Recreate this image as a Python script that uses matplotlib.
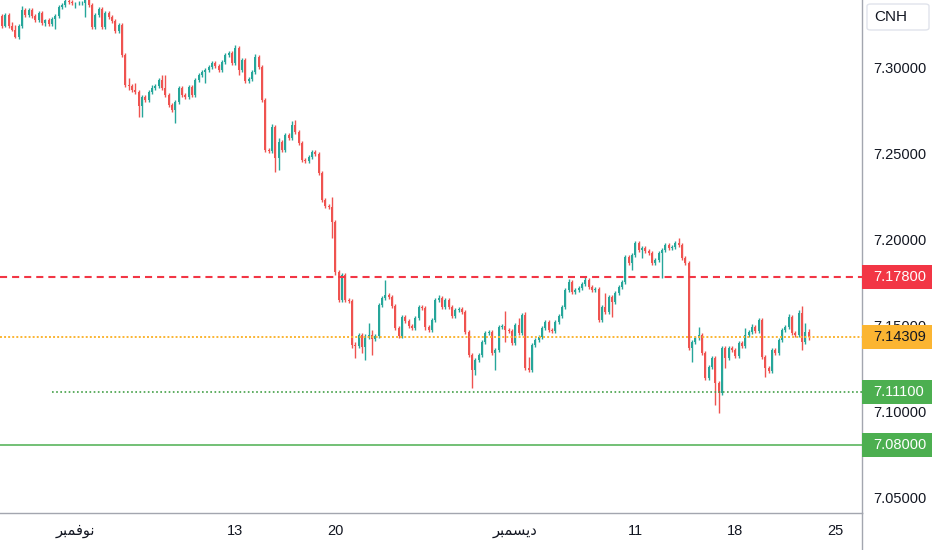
import numpy as np
import matplotlib
matplotlib.use("Agg")
import matplotlib.pyplot as plt
from matplotlib.patches import Rectangle, FancyBboxPatch
from matplotlib.lines import Line2D
from matplotlib.transforms import blended_transform_factory

plt.rcParams['font.family'] = ['Liberation Sans', 'DejaVu Sans']

# ---- data: USD/CNH 4h candles ----
first_open = 7.3297

closes = [
    7.3238, 7.3302, 7.3238, 7.3215, 7.3174, 7.3238, 7.3331, 7.3302, 7.3331, 7.3297,
    7.3273, 7.3314, 7.3256, 7.3273, 7.3250, 7.3279, 7.3297, 7.3349, 7.3360, 7.3384,
    7.3378, 7.3372, 7.3372, 7.3372, 7.3372, 7.3390, 7.3360, 7.3233, 7.3302, 7.3337,
    7.3233, 7.3314, 7.3291, 7.3267, 7.3209, 7.3244, 7.3070, 7.2895, 7.2890, 7.2866,
    7.2855, 7.2773, 7.2826, 7.2808, 7.2855, 7.2878, 7.2890, 7.2924, 7.2878, 7.2837,
    7.2779, 7.2750, 7.2796, 7.2878, 7.2837, 7.2826, 7.2884, 7.2837, 7.2924, 7.2953,
    7.2971, 7.2982, 7.3000, 7.3023, 7.3006, 7.2982, 7.3029, 7.3070, 7.3081, 7.3023,
    7.3110, 7.2982, 7.3041, 7.2919, 7.2930, 7.2971, 7.3058, 7.3000, 7.2808, 7.2517,
    7.2512, 7.2651, 7.2471, 7.2564, 7.2517, 7.2605, 7.2587, 7.2663, 7.2622, 7.2558,
    7.2459, 7.2453, 7.2477, 7.2506, 7.2494, 7.2384, 7.2227, 7.2192, 7.2186, 7.2099,
    7.1808, 7.1645, 7.1791, 7.1645, 7.1640, 7.1384, 7.1378, 7.1442, 7.1372, 7.1430,
    7.1442, 7.1419, 7.1436, 7.1616, 7.1657, 7.1674, 7.1663, 7.1610, 7.1482, 7.1436,
    7.1546, 7.1523, 7.1494, 7.1482, 7.1541, 7.1605, 7.1599, 7.1488, 7.1471, 7.1529,
    7.1645, 7.1657, 7.1605, 7.1645, 7.1605, 7.1552, 7.1587, 7.1593, 7.1576, 7.1459,
    7.1326, 7.1238, 7.1297, 7.1326, 7.1401, 7.1453, 7.1459, 7.1337, 7.1355, 7.1488,
    7.1494, 7.1471, 7.1465, 7.1395, 7.1500, 7.1453, 7.1558, 7.1250, 7.1238, 7.1384,
    7.1413, 7.1430, 7.1482, 7.1517, 7.1471, 7.1465, 7.1517, 7.1552, 7.1605, 7.1703,
    7.1750, 7.1692, 7.1703, 7.1715, 7.1738, 7.1762, 7.1721, 7.1703, 7.1709, 7.1529,
    7.1605, 7.1576, 7.1663, 7.1634, 7.1686, 7.1721, 7.1750, 7.1895, 7.1860, 7.1907,
    7.1977, 7.1936, 7.1948, 7.1930, 7.1919, 7.1860, 7.1878, 7.1919, 7.1936, 7.1965,
    7.1948, 7.1953, 7.1977, 7.1965, 7.1890, 7.1860, 7.1366, 7.1401, 7.1424, 7.1442,
    7.1337, 7.1192, 7.1256, 7.1308, 7.1163, 7.1105, 7.1366, 7.1308, 7.1366, 7.1355,
    7.1320, 7.1395, 7.1378, 7.1442, 7.1459, 7.1488, 7.1465, 7.1529, 7.1314, 7.1250,
    7.1233, 7.1355, 7.1337, 7.1413, 7.1471, 7.1488, 7.1546, 7.1453, 7.1442, 7.1570,
    7.1401, 7.1459, 7.1431,
]

# wick lengths above / below the body, in price units
upper_wicks = [
    0.0012, 0.0012, 0.0010, 0.0023, 0.0029, 0.0012, 0.0023, 0.0010, 0.0012, 0.0010,
    0.0012, 0.0012, 0.0010, 0.0008, 0.0010, 0.0012, 0.0012, 0.0012, 0.0010, 0.0012,
    0.0010, 0.0010, 0.0008, 0.0010, 0.0010, 0.0012, 0.0010, 0.0012, 0.0010, 0.0012,
    0.0010, 0.0012, 0.0012, 0.0010, 0.0012, 0.0012, 0.0010, 0.0010, 0.0041, 0.0012,
    0.0041, 0.0010, 0.0012, 0.0012, 0.0012, 0.0017, 0.0012, 0.0012, 0.0029, 0.0076,
    0.0012, 0.0010, 0.0012, 0.0012, 0.0012, 0.0012, 0.0012, 0.0012, 0.0012, 0.0012,
    0.0012, 0.0012, 0.0012, 0.0012, 0.0012, 0.0010, 0.0012, 0.0012, 0.0012, 0.0012,
    0.0017, 0.0012, 0.0012, 0.0012, 0.0010, 0.0012, 0.0017, 0.0012, 0.0012, 0.0012,
    0.0010, 0.0017, 0.0012, 0.0023, 0.0012, 0.0012, 0.0012, 0.0023, 0.0029, 0.0012,
    0.0012, 0.0010, 0.0012, 0.0012, 0.0012, 0.0012, 0.0012, 0.0012, 0.0010, 0.0058,
    0.0012, 0.0012, 0.0012, 0.0012, 0.0012, 0.0012, 0.0017, 0.0012, 0.0012, 0.0017,
    0.0070, 0.0029, 0.0012, 0.0012, 0.0012, 0.0087, 0.0012, 0.0012, 0.0012, 0.0012,
    0.0012, 0.0012, 0.0012, 0.0012, 0.0012, 0.0012, 0.0012, 0.0012, 0.0012, 0.0012,
    0.0012, 0.0017, 0.0012, 0.0012, 0.0012, 0.0012, 0.0012, 0.0012, 0.0012, 0.0012,
    0.0012, 0.0012, 0.0012, 0.0012, 0.0012, 0.0012, 0.0012, 0.0012, 0.0012, 0.0012,
    0.0012, 0.0087, 0.0012, 0.0012, 0.0012, 0.0041, 0.0012, 0.0017, 0.0064, 0.0012,
    0.0012, 0.0012, 0.0012, 0.0012, 0.0012, 0.0012, 0.0012, 0.0012, 0.0012, 0.0012,
    0.0017, 0.0012, 0.0012, 0.0012, 0.0012, 0.0017, 0.0012, 0.0012, 0.0012, 0.0012,
    0.0012, 0.0081, 0.0012, 0.0012, 0.0012, 0.0012, 0.0012, 0.0012, 0.0012, 0.0012,
    0.0012, 0.0012, 0.0012, 0.0012, 0.0012, 0.0012, 0.0012, 0.0012, 0.0012, 0.0012,
    0.0012, 0.0012, 0.0012, 0.0029, 0.0012, 0.0012, 0.0012, 0.0012, 0.0012, 0.0047,
    0.0012, 0.0012, 0.0012, 0.0012, 0.0012, 0.0012, 0.0012, 0.0012, 0.0012, 0.0012,
    0.0012, 0.0012, 0.0012, 0.0041, 0.0012, 0.0017, 0.0012, 0.0012, 0.0012, 0.0012,
    0.0012, 0.0012, 0.0012, 0.0012, 0.0012, 0.0012, 0.0017, 0.0012, 0.0012, 0.0017,
    0.0041, 0.0052, 0.0017,
]

lower_wicks = [
    0.0012, 0.0006, 0.0012, 0.0006, 0.0006, 0.0012, 0.0010, 0.0012, 0.0012, 0.0012,
    0.0012, 0.0012, 0.0012, 0.0017, 0.0012, 0.0012, 0.0058, 0.0012, 0.0012, 0.0012,
    0.0012, 0.0012, 0.0029, 0.0010, 0.0010, 0.0081, 0.0012, 0.0012, 0.0012, 0.0012,
    0.0012, 0.0012, 0.0012, 0.0012, 0.0012, 0.0012, 0.0012, 0.0012, 0.0023, 0.0012,
    0.0012, 0.0064, 0.0064, 0.0012, 0.0012, 0.0012, 0.0012, 0.0012, 0.0012, 0.0012,
    0.0012, 0.0012, 0.0076, 0.0012, 0.0012, 0.0012, 0.0012, 0.0012, 0.0012, 0.0012,
    0.0012, 0.0064, 0.0012, 0.0012, 0.0012, 0.0012, 0.0012, 0.0012, 0.0012, 0.0012,
    0.0012, 0.0029, 0.0012, 0.0012, 0.0012, 0.0012, 0.0012, 0.0012, 0.0012, 0.0012,
    0.0012, 0.0012, 0.0081, 0.0070, 0.0012, 0.0012, 0.0012, 0.0012, 0.0012, 0.0012,
    0.0012, 0.0012, 0.0012, 0.0012, 0.0012, 0.0012, 0.0012, 0.0012, 0.0012, 0.0093,
    0.0017, 0.0012, 0.0012, 0.0012, 0.0012, 0.0017, 0.0070, 0.0012, 0.0035, 0.0076,
    0.0012, 0.0093, 0.0012, 0.0012, 0.0012, 0.0012, 0.0012, 0.0012, 0.0012, 0.0012,
    0.0012, 0.0012, 0.0012, 0.0012, 0.0012, 0.0012, 0.0012, 0.0017, 0.0012, 0.0012,
    0.0012, 0.0012, 0.0012, 0.0012, 0.0012, 0.0012, 0.0012, 0.0012, 0.0012, 0.0012,
    0.0012, 0.0105, 0.0029, 0.0012, 0.0012, 0.0012, 0.0012, 0.0012, 0.0099, 0.0012,
    0.0012, 0.0070, 0.0012, 0.0012, 0.0012, 0.0012, 0.0012, 0.0012, 0.0012, 0.0012,
    0.0012, 0.0012, 0.0012, 0.0012, 0.0012, 0.0012, 0.0012, 0.0012, 0.0012, 0.0012,
    0.0012, 0.0012, 0.0012, 0.0012, 0.0012, 0.0012, 0.0012, 0.0012, 0.0012, 0.0012,
    0.0012, 0.0012, 0.0012, 0.0087, 0.0012, 0.0012, 0.0012, 0.0012, 0.0012, 0.0041,
    0.0012, 0.0012, 0.0047, 0.0012, 0.0012, 0.0012, 0.0012, 0.0012, 0.0145, 0.0012,
    0.0012, 0.0012, 0.0012, 0.0012, 0.0012, 0.0012, 0.0012, 0.0081, 0.0012, 0.0012,
    0.0012, 0.0012, 0.0012, 0.0012, 0.0128, 0.0116, 0.0012, 0.0058, 0.0012, 0.0012,
    0.0012, 0.0012, 0.0012, 0.0012, 0.0012, 0.0012, 0.0012, 0.0012, 0.0012, 0.0052,
    0.0012, 0.0012, 0.0012, 0.0012, 0.0012, 0.0012, 0.0012, 0.0012, 0.0012, 0.0012,
    0.0047, 0.0012, 0.0017,
]

# date ticks (candle index) -- month names in Arabic (presentation forms, visual order)
tick_pos = [22, 70, 100, 154, 190, 220, 250]
tick_labels = ['\ufeae\ufe92\ufee4\ufed3\ufeee\ufee7', '13', '20',
               '\ufeae\ufe92\ufee4\ufeb4\ufef3\ufea9', '11', '18', '25']
price_ticks = [7.05, 7.10, 7.15, 7.20, 7.25, 7.30]

resistance = 7.178
last_price = 7.14309
support_1 = 7.111
support_2 = 7.080
support_1_start = 15  # dotted line starts at this candle

UP = '#26a69a'
DOWN = '#ef5350'
RED = '#f23645'
YELLOW = '#fbb532'
GREEN = '#4caf50'
AXIS_GREY = '#a3a6af'
TEXT = '#131722'

closes = np.array(closes)
opens = np.concatenate([[first_open], closes[:-1]])
highs = np.maximum(opens, closes) + np.array(upper_wicks)
lows = np.minimum(opens, closes) - np.array(lower_wicks)
idx = np.arange(len(closes))
colors = np.where(closes >= opens, UP, DOWN)

fig = plt.figure(figsize=(9.32, 5.5), dpi=100)
ax = fig.add_axes([0, 37 / 550, 862 / 932, 513 / 550])

ax.vlines(idx, lows, highs, colors=colors, linewidth=1, zorder=2)
body = np.maximum(np.abs(closes - opens), 0.0003)
ax.bar(idx, body, bottom=np.minimum(opens, closes), width=0.68,
       color=colors, linewidth=0, zorder=3)

ax.set_xlim(-0.6, 258.0)
ax.set_ylim(7.0407, 7.3390)

# horizontal levels
ax.axhline(resistance, color=RED, lw=1.5, ls=(0, (3.4, 2.4)), zorder=4)
ax.axhline(last_price, color=YELLOW, lw=1.4, ls=(0, (1.0, 1.1)), zorder=4)
ax.hlines(support_1, support_1_start, 258.0, color='#43a047', lw=1.2,
          linestyles=[(0, (1.0, 1.5))], zorder=4)
ax.axhline(support_2, color=GREEN, lw=1.1, zorder=4)

# axes look
for side in ['top', 'left']:
    ax.spines[side].set_visible(False)
for side in ['right', 'bottom']:
    ax.spines[side].set_color(AXIS_GREY)
    ax.spines[side].set_linewidth(1)
fig.add_artist(Line2D([862 / 932, 862 / 932], [0, 37 / 550], color=AXIS_GREY, lw=1))

ax.yaxis.tick_right()
ax.set_yticks(price_ticks)
ax.set_yticklabels(['%.5f' % p for p in price_ticks])
ax.tick_params(axis='y', length=0, pad=8, labelsize=10.5, labelcolor=TEXT)
ax.set_xticks(tick_pos)
ax.set_xticklabels(tick_labels)
ax.tick_params(axis='x', length=0, pad=8, labelsize=10.5, labelcolor=TEXT)

# price labels on the scale
trans = blended_transform_factory(ax.transAxes, ax.transData)
px = (7.3390 - 7.0407) / 513
box_w = 70 / 862
box_h = 24 * px
for level, face, fg in [(resistance, RED, 'white'), (last_price, YELLOW, TEXT),
                        (support_1, GREEN, 'white'), (support_2, GREEN, 'white')]:
    ax.add_patch(Rectangle((1.0, level - box_h / 2), box_w, box_h, transform=trans,
                           facecolor=face, edgecolor='none', clip_on=False, zorder=10))
    ax.text(1.0 + 11 / 862, level, '%.5f' % level, transform=trans, ha='left',
            va='center', fontsize=10.5, color=fg, zorder=11, clip_on=False)

# symbol box
fig.add_artist(FancyBboxPatch((867 / 932, 1 - 30 / 550), 62 / 932, 26 / 550,
                              boxstyle='round,pad=0,rounding_size=0.004',
                              facecolor='white', edgecolor='#e0e3eb', lw=1,
                              transform=fig.transFigure))
fig.text(874 / 932, 1 - 17 / 550, 'CNH', ha='left', va='center',
         fontsize=11, color=TEXT)

fig.savefig('out.png', dpi=100)
